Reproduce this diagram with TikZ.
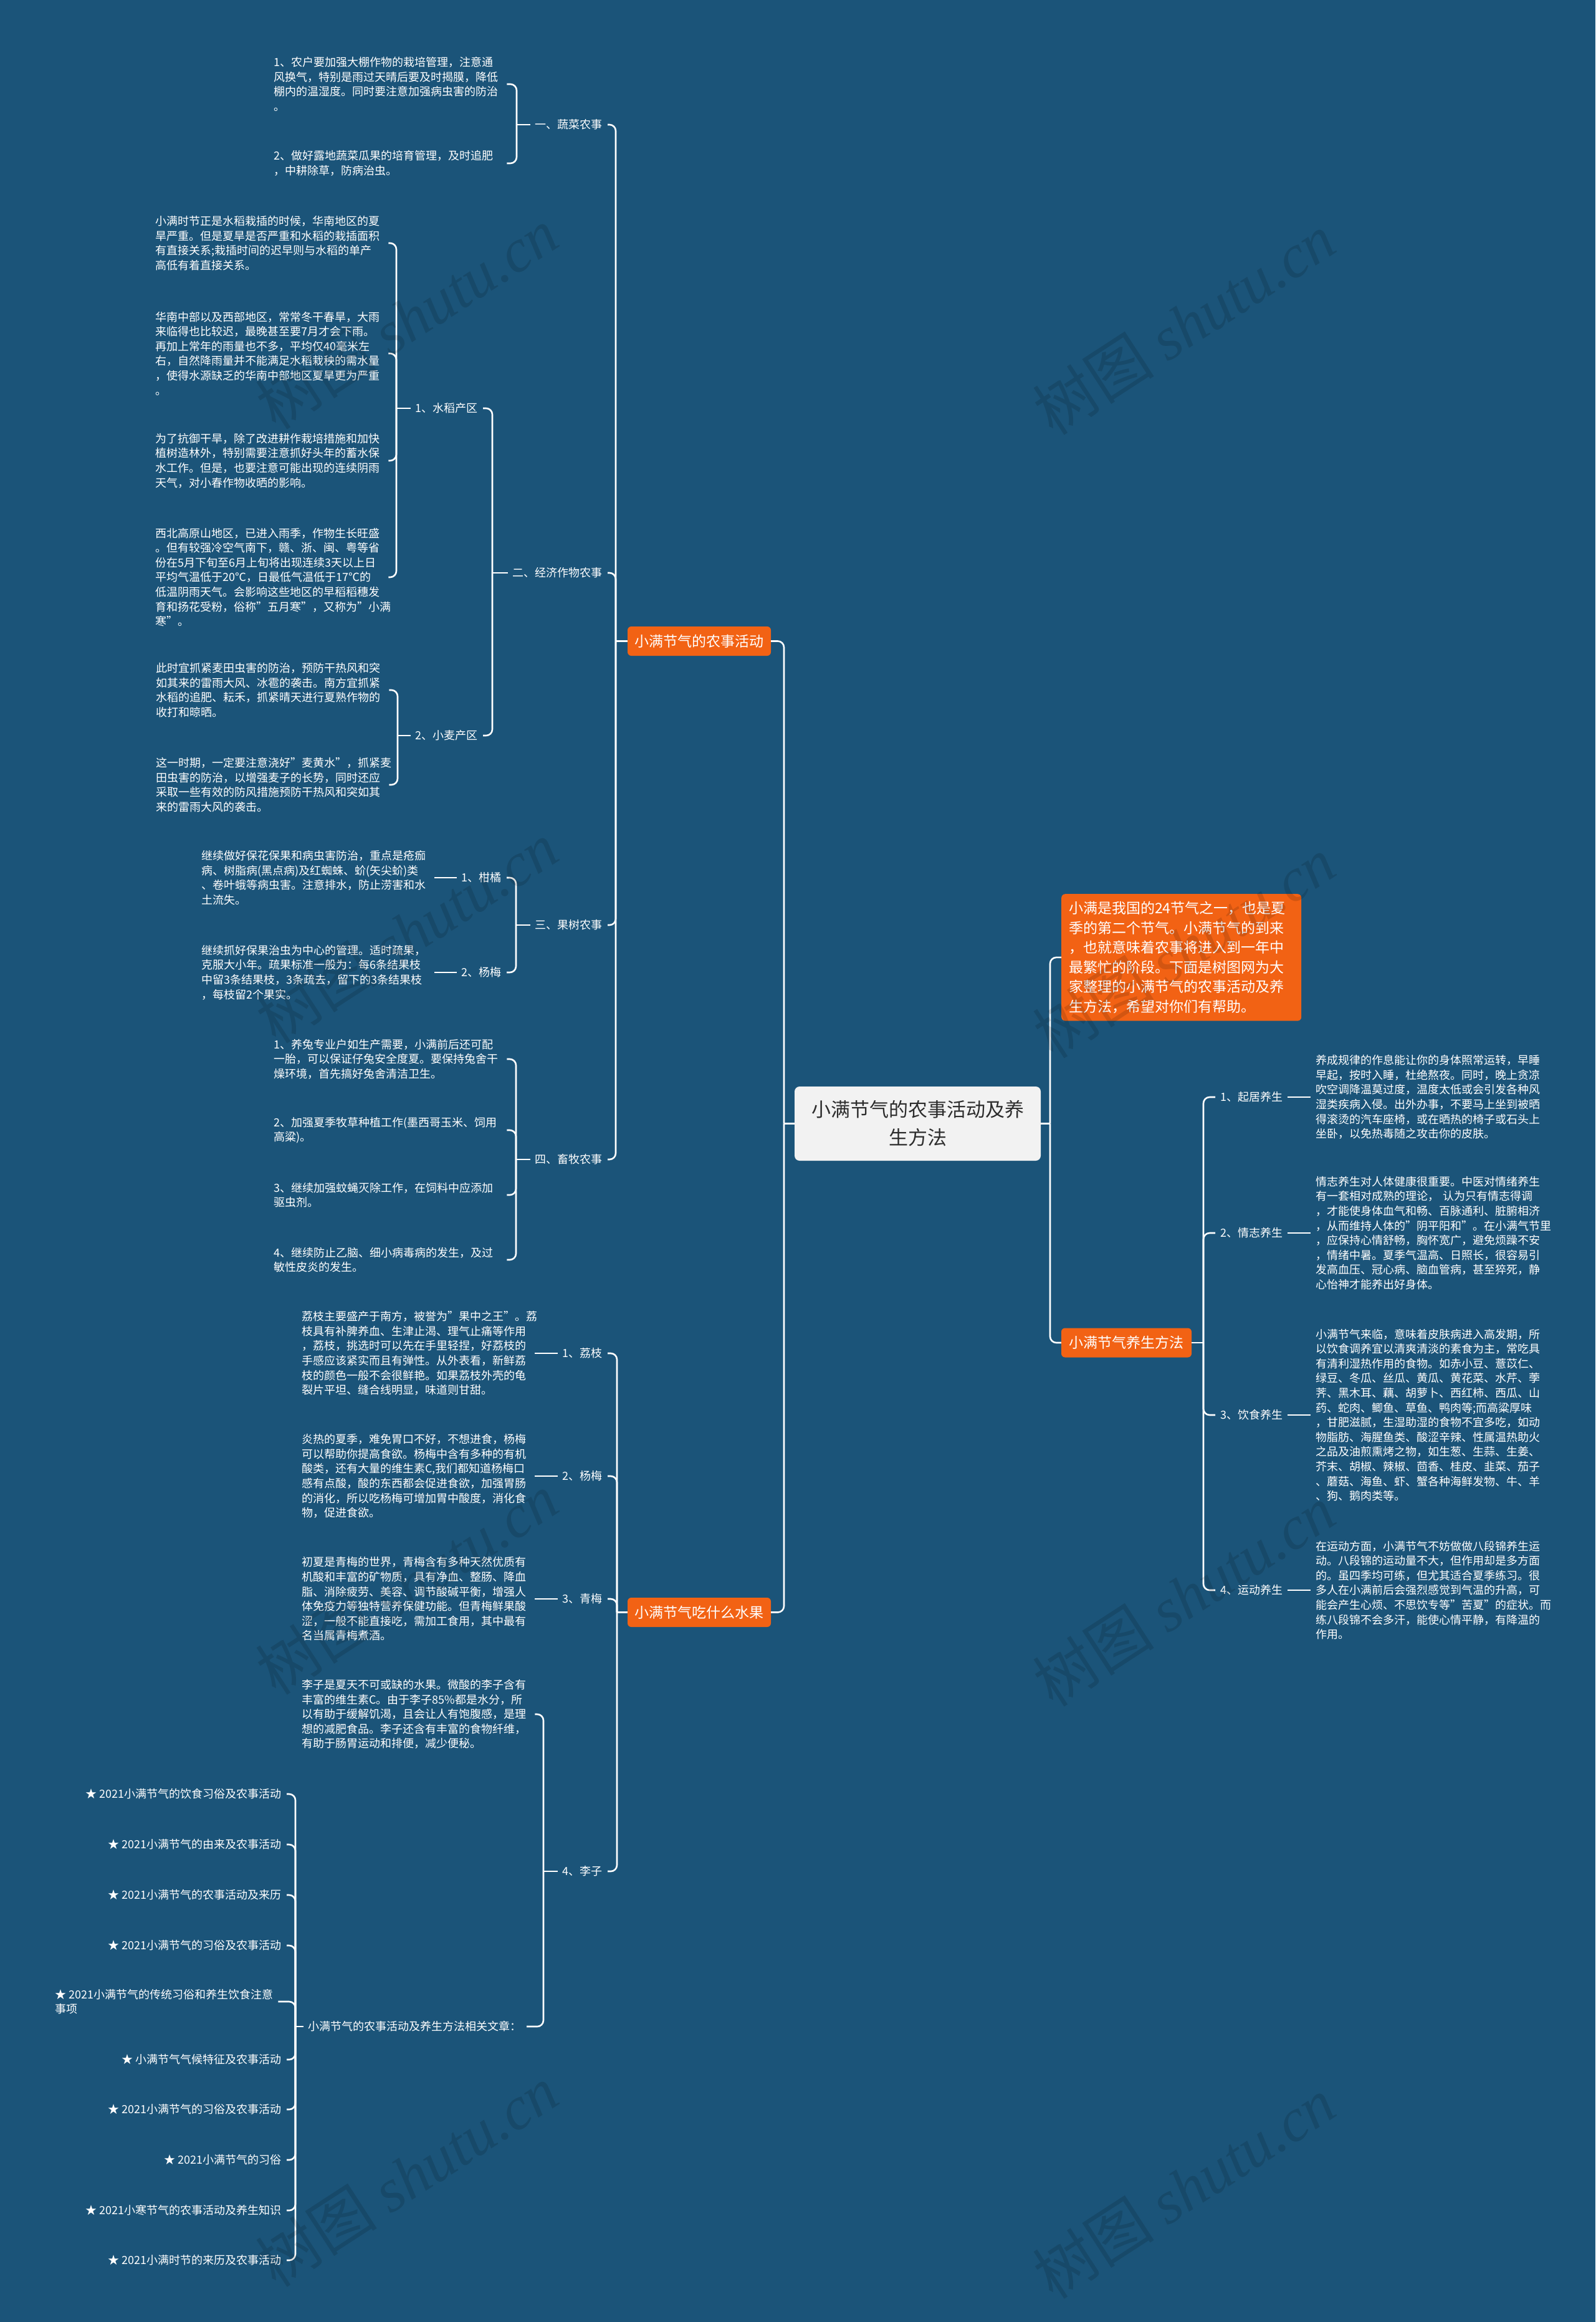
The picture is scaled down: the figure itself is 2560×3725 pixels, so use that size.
\documentclass[tikz,border=0pt]{standalone}
\usepackage{fontspec}
\setmainfont{Noto Sans CJK SC}
\newfontfamily\wmfont{Liberation Serif}
\definecolor{bg}{RGB}{27,84,121}
\definecolor{orng}{RGB}{242,98,20}
\definecolor{cgray}{RGB}{242,242,242}
\definecolor{cdark}{RGB}{45,45,45}
\tikzset{
  conn/.style={draw=white, line width=2.6pt, rounded corners=10pt},
  leaf/.style={text=white, font=\fontsize{18}{23.6}\selectfont, align=left, text width=366pt, inner sep=0pt, anchor=west},
  lab/.style={text=white, font=\fontsize{18}{23.6}\selectfont, inner sep=0pt},
  obox/.style={fill=orng, text=white, rounded corners=6pt, font=\fontsize{23}{31.5}\selectfont, inner sep=0pt, minimum height=47pt},
  cbox/.style={fill=cgray, text=cdark, rounded corners=8pt, minimum width=395pt, minimum height=119pt, align=center, font=\fontsize{31}{45}\selectfont, inner sep=0pt},
  wm/.style={text=black, opacity=0.13, rotate=33, font=\fontsize{98}{98}\selectfont, inner sep=0pt}
}
\begin{document}
\begin{tikzpicture}[x=1pt,y=-1pt]
\useasboundingbox (0,0) rectangle (2560,3725);
\fill[bg] (0,0) rectangle (2560,3725);

% ---------- root and level 1 ----------
\node[cbox] (root) at (1472.5,1802.5) {小满节气的农事活动及养\\生方法};
\node[obox, minimum width=230pt] (ns) at (1122,1028.5) {小满节气的农事活动};
\node[obox, minimum width=230pt] (sg) at (1122,2586.5) {小满节气吃什么水果};
\node[obox, minimum width=209pt] (ys) at (1807.5,2154) {小满节气养生方法};
\node[obox, text width=361pt, align=left, inner sep=12pt, anchor=north west] (intro) at (1703,1434) {小满是我国的24节气之一，也是夏\\季的第二个节气。小满节气的到来\\，也就意味着农事将进入到一年中\\最繁忙的阶段。下面是树图网为大\\家整理的小满节气的农事活动及养\\生方法，希望对你们有帮助。};

% ---------- bracket x positions ----------
\coordinate (bL) at (1258,0);
\coordinate (bR) at (1685,0);
\coordinate (bNS) at (988,0);
\coordinate (bSG) at (990,0);
\coordinate (bYS) at (1931,0);
\coordinate (bV) at (829,0);
\coordinate (bJJ) at (790,0);
\coordinate (bSD) at (636,0);
\coordinate (bXMQ) at (638,0);
\coordinate (bGS) at (828,0);
\coordinate (bXM) at (828,0);
\coordinate (bLZI) at (872,0);
\coordinate (bXG) at (474,0);

% ---------- farming branch ----------
\node[lab, anchor=east] (v) at (967,200) {一、蔬菜农事};
\node[lab, anchor=east] (jj) at (967,919) {二、经济作物农事};
\node[lab, anchor=east] (gs) at (967,1484) {三、果树农事};
\node[lab, anchor=east] (xm) at (967,1860) {四、畜牧农事};

\node[leaf] (veg1) at (439,135) {1、农户要加强大棚作物的栽培管理，注意通\\风换气，特别是雨过天晴后要及时揭膜，降低\\棚内的温湿度。同时要注意加强病虫害的防治\\。};
\node[leaf] (veg2) at (439,262) {2、做好露地蔬菜瓜果的培育管理，及时追肥\\，中耕除草，防病治虫。};

\node[lab, anchor=east] (sd) at (767,655) {1、水稻产区};
\node[lab, anchor=east] (xmq) at (767,1180) {2、小麦产区};

\node[leaf] (r1) at (249,390) {小满时节正是水稻栽插的时候，华南地区的夏\\旱严重。但是夏旱是否严重和水稻的栽插面积\\有直接关系;栽插时间的迟早则与水稻的单产\\高低有着直接关系。};
\node[leaf] (r2) at (249,567) {华南中部以及西部地区，常常冬干春旱，大雨\\来临得也比较迟，最晚甚至要7月才会下雨。\\再加上常年的雨量也不多，平均仅40毫米左\\右，自然降雨量并不能满足水稻栽秧的需水量\\，使得水源缺乏的华南中部地区夏旱更为严重\\。};
\node[leaf] (r3) at (249,739) {为了抗御干旱，除了改进耕作栽培措施和加快\\植树造林外，特别需要注意抓好头年的蓄水保\\水工作。但是，也要注意可能出现的连续阴雨\\天气，对小春作物收晒的影响。};
\node[leaf] (r4) at (249,926) {西北高原山地区，已进入雨季，作物生长旺盛\\。但有较强冷空气南下，赣、浙、闽、粤等省\\份在5月下旬至6月上旬将出现连续3天以上日\\平均气温低于20℃，日最低气温低于17℃的\\低温阴雨天气。会影响这些地区的早稻稻穗发\\育和扬花受粉，俗称"五月寒"，又称为"小满\\寒"。};

\node[leaf] (w1) at (250,1107) {此时宜抓紧麦田虫害的防治，预防干热风和突\\如其来的雷雨大风、冰雹的袭击。南方宜抓紧\\水稻的追肥、耘禾，抓紧晴天进行夏熟作物的\\收打和晾晒。};
\node[leaf] (w2) at (250,1259) {这一时期，一定要注意浇好"麦黄水"，抓紧麦\\田虫害的防治，以增强麦子的长势，同时还应\\采取一些有效的防风措施预防干热风和突如其\\来的雷雨大风的袭击。};

\node[lab, anchor=east] (gj) at (805,1408) {1、柑橘};
\node[lab, anchor=east] (ym) at (805,1560) {2、杨梅};
\node[leaf] (c1) at (323,1408) {继续做好保花保果和病虫害防治，重点是疮痂\\病、树脂病(黑点病)及红蜘蛛、蚧(矢尖蚧)类\\、卷叶蛾等病虫害。注意排水，防止涝害和水\\土流失。};
\node[leaf] (c2) at (323,1560) {继续抓好保果治虫为中心的管理。适时疏果，\\克服大小年。疏果标准一般为：每6条结果枝\\中留3条结果枝，3条疏去，留下的3条结果枝\\，每枝留2个果实。};

\node[leaf] (l1) at (439,1699) {1、养兔专业户如生产需要，小满前后还可配\\一胎，可以保证仔兔安全度夏。要保持兔舍干\\燥环境，首先搞好兔舍清洁卫生。};
\node[leaf] (l2) at (439,1813) {2、加强夏季牧草种植工作(墨西哥玉米、饲用\\高粱)。};
\node[leaf] (l3) at (439,1917) {3、继续加强蚊蝇灭除工作，在饲料中应添加\\驱虫剂。};
\node[leaf] (l4) at (439,2021) {4、继续防止乙脑、细小病毒病的发生，及过\\敏性皮炎的发生。};

% ---------- fruit branch ----------
\node[lab, anchor=east] (lz) at (967,2171) {1、荔枝};
\node[lab, anchor=east] (ym2) at (967,2368) {2、杨梅};
\node[lab, anchor=east] (qm) at (967,2565) {3、青梅};
\node[lab, anchor=east] (lzi) at (967,3002) {4、李子};

\node[leaf] (f1) at (484,2171) {荔枝主要盛产于南方，被誉为"果中之王"。荔\\枝具有补脾养血、生津止渴、理气止痛等作用\\，荔枝，挑选时可以先在手里轻捏，好荔枝的\\手感应该紧实而且有弹性。从外表看，新鲜荔\\枝的颜色一般不会很鲜艳。如果荔枝外壳的龟\\裂片平坦、缝合线明显，味道则甘甜。};
\node[leaf] (f2) at (484,2368) {炎热的夏季，难免胃口不好，不想进食，杨梅\\可以帮助你提高食欲。杨梅中含有多种的有机\\酸类，还有大量的维生素C,我们都知道杨梅口\\感有点酸，酸的东西都会促进食欲，加强胃肠\\的消化，所以吃杨梅可增加胃中酸度，消化食\\物，促进食欲。};
\node[leaf] (f3) at (484,2565) {初夏是青梅的世界，青梅含有多种天然优质有\\机酸和丰富的矿物质，具有净血、整肠、降血\\脂、消除疲劳、美容、调节酸碱平衡，增强人\\体免疫力等独特营养保健功能。但青梅鲜果酸\\涩，一般不能直接吃，需加工食用，其中最有\\名当属青梅煮酒。};
\node[leaf] (f4) at (484,2750) {李子是夏天不可或缺的水果。微酸的李子含有\\丰富的维生素C。由于李子85\%都是水分，所\\以有助于缓解饥渴，且会让人有饱腹感，是理\\想的减肥食品。李子还含有丰富的食物纤维，\\有助于肠胃运动和排便，减少便秘。};
\node[lab, anchor=east] (xg) at (837,3251) {小满节气的农事活动及养生方法相关文章：};

\node[lab, anchor=east] (s1) at (452,2878) {★ 2021小满节气的饮食习俗及农事活动};
\node[lab, anchor=east] (s2) at (452,2959) {★ 2021小满节气的由来及农事活动};
\node[lab, anchor=east] (s3) at (452,3040) {★ 2021小满节气的农事活动及来历};
\node[lab, anchor=east] (s4) at (452,3121) {★ 2021小满节气的习俗及农事活动};
\node[lab, anchor=west, align=left] (s5) at (88,3211) {★ 2021小满节气的传统习俗和养生饮食注意\\事项};
\node[lab, anchor=east] (s6) at (452,3304) {★ 小满节气气候特征及农事活动};
\node[lab, anchor=east] (s7) at (452,3384) {★ 2021小满节气的习俗及农事活动};
\node[lab, anchor=east] (s8) at (452,3465) {★ 2021小满节气的习俗};
\node[lab, anchor=east] (s9) at (452,3546) {★ 2021小寒节气的农事活动及养生知识};
\node[lab, anchor=east] (s10) at (452,3626) {★ 2021小满时节的来历及农事活动};

% ---------- health branch ----------
\node[lab, anchor=west] (qj) at (1958,1760) {1、起居养生};
\node[lab, anchor=west] (qz) at (1958,1978) {2、情志养生};
\node[lab, anchor=west] (yss) at (1958,2270) {3、饮食养生};
\node[lab, anchor=west] (yd) at (1958,2551) {4、运动养生};

\node[leaf] (t1) at (2111,1760) {养成规律的作息能让你的身体照常运转，早睡\\早起，按时入睡，杜绝熬夜。同时，晚上贪凉\\吹空调降温莫过度，温度太低或会引发各种风\\湿类疾病入侵。出外办事，不要马上坐到被晒\\得滚烫的汽车座椅，或在晒热的椅子或石头上\\坐卧，以免热毒随之攻击你的皮肤。};
\node[leaf] (t2) at (2111,1978) {情志养生对人体健康很重要。中医对情绪养生\\有一套相对成熟的理论， 认为只有情志得调\\，才能使身体血气和畅、百脉通利、脏腑相济\\，从而维持人体的"阴平阳和"。在小满气节里\\，应保持心情舒畅，胸怀宽广，避免烦躁不安\\，情绪中暑。夏季气温高、日照长，很容易引\\发高血压、冠心病、脑血管病，甚至猝死，静\\心怡神才能养出好身体。};
\node[leaf] (t3) at (2111,2270) {小满节气来临，意味着皮肤病进入高发期，所\\以饮食调养宜以清爽清淡的素食为主，常吃具\\有清利湿热作用的食物。如赤小豆、薏苡仁、\\绿豆、冬瓜、丝瓜、黄瓜、黄花菜、水芹、荸\\荠、黑木耳、藕、胡萝卜、西红柿、西瓜、山\\药、蛇肉、鲫鱼、草鱼、鸭肉等;而高粱厚味\\，甘肥滋腻，生湿助湿的食物不宜多吃，如动\\物脂肪、海腥鱼类、酸涩辛辣、性属温热助火\\之品及油煎熏烤之物，如生葱、生蒜、生姜、\\芥末、胡椒、辣椒、茴香、桂皮、韭菜、茄子\\、蘑菇、海鱼、虾、蟹各种海鲜发物、牛、羊\\、狗、鹅肉类等。};
\node[leaf] (t4) at (2111,2551) {在运动方面，小满节气不妨做做八段锦养生运\\动。八段锦的运动量不大，但作用却是多方面\\的。虽四季均可练，但尤其适合夏季练习。很\\多人在小满前后会强烈感觉到气温的升高，可\\能会产生心烦、不思饮专等"苦夏"的症状。而\\练八段锦不会多汗，能使心情平静，有降温的\\作用。};

% ---------- connectors ----------
\draw[conn] (ns.east) -| (bL |- root.west);
\draw[conn] (sg.east) -| (bL |- root.west);
\draw[conn] (bL |- root.west) -- (root.west);
\draw[conn] (intro.west) -| (bR |- root.east);
\draw[conn] (ys.west) -| (bR |- root.east);
\draw[conn] (bR |- root.east) -- (root.east);

\foreach \n in {v,jj,gs,xm} \draw[conn] ([xshift=8pt]\n.east) -| (bNS |- ns.west);
\draw[conn] (bNS |- ns.west) -- (ns.west);

\foreach \n in {veg1,veg2} \draw[conn] ([xshift=8pt]\n.east) -| (bV |- v.west);
\draw[conn] (bV |- v.west) -- ([xshift=-8pt]v.west);

\foreach \n in {sd,xmq} \draw[conn] ([xshift=8pt]\n.east) -| (bJJ |- jj.west);
\draw[conn] (bJJ |- jj.west) -- ([xshift=-8pt]jj.west);

\foreach \n in {r1,r2,r3,r4} \draw[conn] ([xshift=8pt]\n.east) -| (bSD |- sd.west);
\draw[conn] (bSD |- sd.west) -- ([xshift=-8pt]sd.west);

\foreach \n in {w1,w2} \draw[conn] ([xshift=8pt]\n.east) -| (bXMQ |- xmq.west);
\draw[conn] (bXMQ |- xmq.west) -- ([xshift=-8pt]xmq.west);

\foreach \n in {gj,ym} \draw[conn] ([xshift=8pt]\n.east) -| (bGS |- gs.west);
\draw[conn] (bGS |- gs.west) -- ([xshift=-8pt]gs.west);
\draw[conn] ([xshift=8pt]c1.east) -- ([xshift=-8pt]gj.west);
\draw[conn] ([xshift=8pt]c2.east) -- ([xshift=-8pt]ym.west);

\foreach \n in {l1,l2,l3,l4} \draw[conn] ([xshift=8pt]\n.east) -| (bXM |- xm.west);
\draw[conn] (bXM |- xm.west) -- ([xshift=-8pt]xm.west);

\foreach \n in {lz,ym2,qm,lzi} \draw[conn] ([xshift=8pt]\n.east) -| (bSG |- sg.west);
\draw[conn] (bSG |- sg.west) -- (sg.west);
\draw[conn] ([xshift=8pt]f1.east) -- ([xshift=-8pt]lz.west);
\draw[conn] ([xshift=8pt]f2.east) -- ([xshift=-8pt]ym2.west);
\draw[conn] ([xshift=8pt]f3.east) -- ([xshift=-8pt]qm.west);

\foreach \n in {f4,xg} \draw[conn] ([xshift=8pt]\n.east) -| (bLZI |- lzi.west);
\draw[conn] (bLZI |- lzi.west) -- ([xshift=-8pt]lzi.west);

\foreach \n in {s1,s2,s3,s4,s5,s6,s7,s8,s9,s10} \draw[conn] ([xshift=8pt]\n.east) -| (bXG |- xg.west);
\draw[conn] (bXG |- xg.west) -- ([xshift=-8pt]xg.west);

\foreach \n in {qj,qz,yss,yd} \draw[conn] ([xshift=-8pt]\n.west) -| (bYS |- ys.east);
\draw[conn] (bYS |- ys.east) -- (ys.east);
\draw[conn] ([xshift=8pt]qj.east) -- ([xshift=-8pt]t1.west);
\draw[conn] ([xshift=8pt]qz.east) -- ([xshift=-8pt]t2.west);
\draw[conn] ([xshift=8pt]yss.east) -- ([xshift=-8pt]t3.west);
\draw[conn] ([xshift=8pt]yd.east) -- ([xshift=-8pt]t4.west);

% ---------- watermarks ----------
\foreach \wx/\wy [count=\i] in {653/511,1900/520,653/1496,1900/1520,653/2541,1900/2560,653/3491,1900/3510}
  \node[wm] (wm\i) at (\wx,\wy) {树图 {\wmfont\itshape shutu.cn}};
\end{tikzpicture}
\end{document}
